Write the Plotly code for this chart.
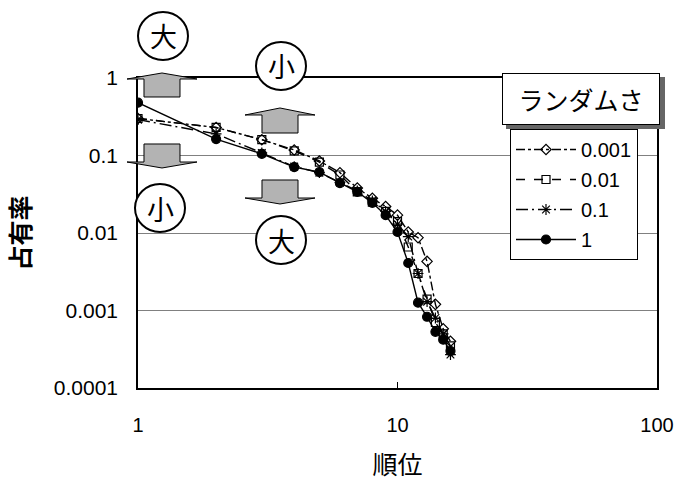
import plotly.graph_objects as go

ranks = list(range(1, 17))
series_names = ["0.001", "0.01", "0.1", "1"]
s_0001 = [0.30, 0.23, 0.16, 0.118, 0.085, 0.060, 0.038, 0.028, 0.022, 0.017, 0.0103, 0.0087, 0.0043, 0.0012, 0.00058, 0.0004]
s_001 = [0.30, 0.23, 0.16, 0.115, 0.082, 0.056, 0.034, 0.025, 0.019, 0.014, 0.0066, 0.003, 0.0014, 0.0007, 0.0005, 0.00035]
s_01 = [0.29, 0.19, 0.108, 0.072, 0.060, 0.045, 0.035, 0.026, 0.019, 0.013, 0.009, 0.003, 0.0013, 0.0008, 0.0005, 0.00027]
s_1 = [0.48, 0.163, 0.105, 0.071, 0.061, 0.044, 0.034, 0.0245, 0.017, 0.0103, 0.0041, 0.00126, 0.00083, 0.00053, 0.00042, 0.0003]
y_tickvals = [0.0001, 0.001, 0.01, 0.1, 1]
y_ticktext = ["0.0001", "0.001", "0.01", "0.1", "1"]
x_tickvals = [1, 10, 100]
x_ticktext = ["1", "10", "100"]

FONT = "Noto Sans CJK JP, Liberation Sans, sans-serif"
NUMFONT = "Liberation Sans, Arial, sans-serif"
W, H = 678, 483
L, R, T, B = 138, 657, 78, 388


def px(x):
    return (x - L) / (R - L)


def py(y):
    return (B - y) / (B - T)


styles = [
    dict(dash="dashdot", symbol="diamond-open", size=8),
    dict(dash="dash", symbol="square-open", size=8),
    dict(dash="12px,4px,2px,4px", symbol="asterisk-open", size=9),
    dict(dash="solid", symbol="circle", size=9),
]
data = [s_0001, s_001, s_01, s_1]

fig = go.Figure()
for name, vals, st in zip(series_names, data, styles):
    fig.add_trace(go.Scatter(
        x=ranks, y=vals, name=name, mode="lines+markers", legendgroup=name,
        line=dict(color="black", width=1.4, dash=st["dash"]),
        marker=dict(symbol=st["symbol"], size=st["size"], color="black",
                    line=dict(color="black", width=1.2)),
    ))

shapes = []
shapes.append(dict(type="rect", xref="paper", yref="paper",
                   x0=px(506), x1=px(665), y0=py(129), y1=py(77),
                   fillcolor="#666666", line=dict(width=0), layer="above"))


def arrow(cx, ya, yb, yend):
    hw, bw = 35, 18
    pts = [(cx - bw, yend), (cx - bw, yb), (cx - hw, yb), (cx, ya),
           (cx + hw, yb), (cx + bw, yb), (cx + bw, yend)]
    p = "M " + " L ".join(f"{px(a):.5f},{py(b):.5f}" for a, b in pts) + " Z"
    return dict(type="path", xref="paper", yref="paper", path=p,
                fillcolor="#b3b3b3", line=dict(color="black", width=1), layer="above")


shapes.append(arrow(162, 73, 79, 97))
shapes.append(arrow(280, 108, 115, 133))
shapes.append(arrow(162, 168, 162, 144))
shapes.append(arrow(280, 204, 198, 180))

circles = [(163, 36, "大"), (281, 66, "小"), (160, 208, "小"), (281, 240, "大")]
annotations = []
for cx, cy, t in circles:
    shapes.append(dict(type="circle", xref="paper", yref="paper",
                       x0=px(cx - 25), x1=px(cx + 25), y0=py(cy + 24), y1=py(cy - 24),
                       fillcolor="white", line=dict(color="black", width=2), layer="above"))
    annotations.append(dict(xref="paper", yref="paper", x=px(cx), y=py(cy),
                            text=t, showarrow=False, font=dict(size=27, color="black", family=FONT),
                            xanchor="center", yanchor="middle"))

annotations.append(dict(xref="paper", yref="paper", x=px(581), y=py(99),
                        text="ランダムさ", showarrow=False,
                        font=dict(size=25, color="black", family=FONT),
                        bgcolor="white", bordercolor="black", borderwidth=1,
                        width=154, height=48, xanchor="center", yanchor="middle"))

fig.update_layout(
    width=W, height=H,
    margin=dict(l=L, r=W - R, t=T, b=H - B, autoexpand=False),
    paper_bgcolor="white", plot_bgcolor="white",
    font=dict(family=FONT, color="black", size=18),
    shapes=shapes, annotations=annotations,
    showlegend=True,
    legend=dict(x=px(510), y=py(129), xanchor="left", yanchor="top",
                bgcolor="white", bordercolor="black", borderwidth=1,
                font=dict(size=20, family=NUMFONT), tracegroupgap=1, itemwidth=60),
)
fig.update_xaxes(type="log", range=[0, 2], tickvals=x_tickvals, ticktext=x_ticktext,
                 showgrid=False, showline=True, linecolor="black", linewidth=1.5, mirror=True,
                 ticks="inside", ticklen=6, tickcolor="black", automargin=False,
                 tickfont=dict(size=20, family=NUMFONT), ticklabelstandoff=18,
                 title=dict(text="順位", font=dict(size=25, family=FONT), standoff=22))
fig.update_yaxes(type="log", range=[-4, 0], tickvals=y_tickvals, ticktext=y_ticktext,
                 showgrid=True, gridcolor="#808080", gridwidth=1,
                 showline=True, linecolor="black", linewidth=1.5, mirror=True, automargin=False,
                 ticks="", tickfont=dict(size=21, family=NUMFONT), ticklabelstandoff=14,
                 title=dict(text="<b>占有率</b>", font=dict(size=25, family=FONT), standoff=16))

fig.write_html("out.html", config={"displayModeBar": False},
               post_script="document.body.style.margin='0';document.body.style.overflow='hidden';")
